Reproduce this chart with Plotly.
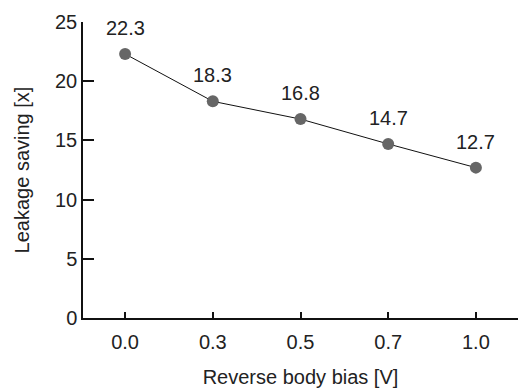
import plotly.graph_objects as go

categories = ["0.0", "0.3", "0.5", "0.7", "1.0"]
saving = [22.3, 18.3, 16.8, 14.7, 12.7]
y_ticks = [0, 5, 10, 15, 20, 25]

FONT = "Liberation Sans, Arial, sans-serif"
FS = 20

fig = go.Figure()
fig.add_trace(go.Scatter(
    x=categories, y=saving, mode="lines+markers",
    line=dict(color="#111111", width=1),
    marker=dict(color="#666666", size=12),
    showlegend=False, hoverinfo="skip",
))
for i, v in enumerate(saving):
    fig.add_annotation(x=i, y=v, xref="x", yref="y", text=f"{v:.1f}", showarrow=False,
                       yshift=26, font=dict(family=FONT, size=FS, color="#222222"))

fig.update_layout(
    width=519, height=389,
    margin=dict(l=83, r=1, t=22, b=71),
    paper_bgcolor="white", plot_bgcolor="white",
    font=dict(family=FONT, size=FS, color="#222222"),
    xaxis=dict(
        type="category", range=[-0.48, 4.48], automargin=False,
        showline=True, linecolor="#111111", linewidth=1.5,
        ticks="inside", ticklen=6, tickwidth=1.5, tickcolor="#111111",
        showgrid=False, zeroline=False, ticklabelstandoff=5,
        tickfont=dict(size=FS),
        title=dict(text="Reverse body bias [V]", font=dict(size=FS), standoff=18),
    ),
    yaxis=dict(
        range=[0, 25], tickvals=y_ticks, automargin=False,
        showline=True, linecolor="#111111", linewidth=1.5,
        ticks="inside", ticklen=11, tickwidth=1.5, tickcolor="#111111",
        showgrid=False, zeroline=False,
        tickfont=dict(size=FS),
        title=dict(text="Leakage saving [x]", font=dict(size=FS), standoff=20),
    ),
)
fig.write_html("out.html", config={"displayModeBar": False},
               post_script="document.body.style.margin='0';")
